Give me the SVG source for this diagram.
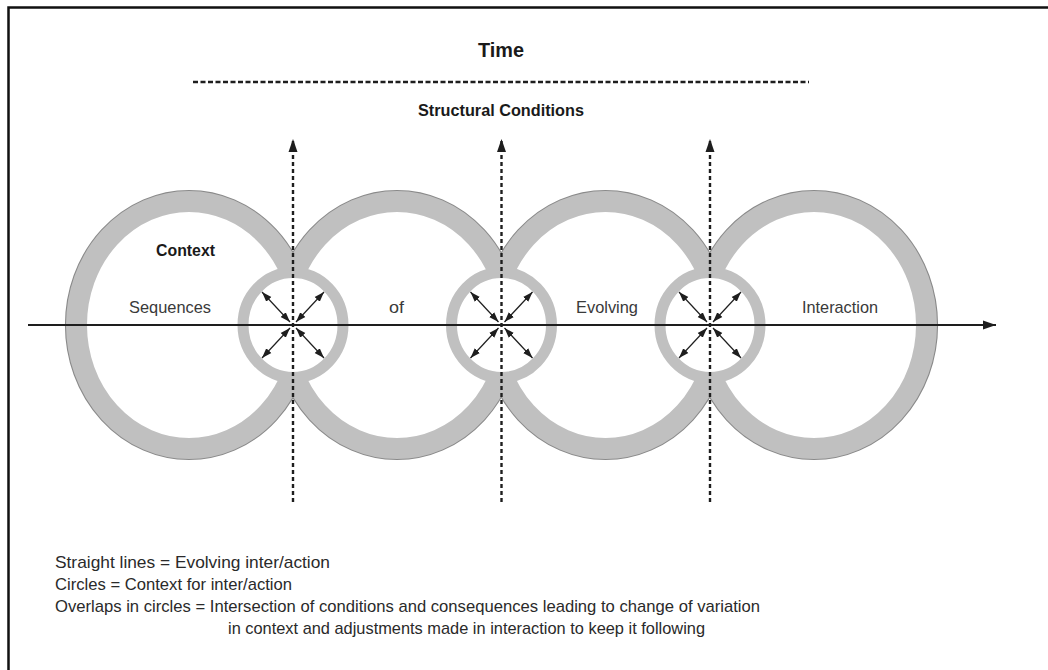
<svg xmlns="http://www.w3.org/2000/svg" width="1048" height="670" viewBox="0 0 1048 670">
  <defs>
    <marker id="headBig" markerUnits="userSpaceOnUse" markerWidth="14" markerHeight="10" refX="13" refY="5" orient="auto">
      <path d="M0,0.5 L13,5 L0,9.5 Z" fill="#1e1e1e"/>
    </marker>
    <marker id="headSmall" markerUnits="userSpaceOnUse" markerWidth="10" markerHeight="8" refX="10" refY="4" orient="auto-start-reverse">
      <path d="M0,0.5 L10,4 L0,7.5 Z" fill="#1e1e1e"/>
    </marker>
    <style>
      .frame { fill: none; stroke: #111; stroke-width: 2.5; }
      .rim { fill: none; stroke: #8a8a8a; stroke-width: 2.2; }
      .band { fill: none; stroke: #c0c0c0; stroke-width: 21; }
      .hub { fill: #fff; stroke: #c0c0c0; stroke-width: 11; }
      .axis { stroke: #1e1e1e; stroke-width: 2; fill: none; }
      .cut { stroke: #1e1e1e; stroke-width: 2.4; stroke-dasharray: 4 3; fill: none; }
      .timeline { stroke: #1e1e1e; stroke-width: 2.4; stroke-dasharray: 5 2.5; fill: none; }
      .ray { stroke: #1e1e1e; stroke-width: 1.2; fill: none; }
      .head { font-family: "Liberation Sans", Arial, sans-serif; font-weight: bold; fill: #1a1a1a; }
      .lbl { font-family: "Liberation Sans", Arial, sans-serif; fill: #3a3a3a; font-size: 17px; }
      .key { font-family: "Liberation Sans", Arial, sans-serif; fill: #2a2a2a; font-size: 17px; }
    </style>
  </defs>

  <rect id="frame" class="frame" x="8.5" y="7.5" width="1060" height="690"/>

  <!-- context rings: darker rims first, gray bands over them -->
  <g id="context-rings">
    <g id="rims">
      <ellipse class="rim" cx="189" cy="325" rx="123" ry="134"/>
      <ellipse class="rim" cx="397" cy="325" rx="123" ry="134"/>
      <ellipse class="rim" cx="605.5" cy="325" rx="123" ry="134"/>
      <ellipse class="rim" cx="814" cy="325" rx="123" ry="134"/>
    </g>
    <g id="context-1"><ellipse class="band" cx="189" cy="325" rx="112.5" ry="123.5"/></g>
    <g id="context-2"><ellipse class="band" cx="397" cy="325" rx="112.5" ry="123.5"/></g>
    <g id="context-3"><ellipse class="band" cx="605.5" cy="325" rx="112.5" ry="123.5"/></g>
    <g id="context-4"><ellipse class="band" cx="814" cy="325" rx="112.5" ry="123.5"/></g>
  </g>

  <!-- overlap circles -->
  <g id="overlap-1"><ellipse class="hub" cx="293" cy="325" rx="50" ry="52.5"/></g>
  <g id="overlap-2"><ellipse class="hub" cx="501.5" cy="325" rx="50" ry="52.5"/></g>
  <g id="overlap-3"><ellipse class="hub" cx="710" cy="325" rx="50" ry="52.5"/></g>

  <g id="connectors">
    <!-- time line -->
    <line class="timeline" x1="193" y1="82" x2="809" y2="82"/>
    <!-- interaction axis -->
    <line class="axis" x1="28" y1="325" x2="996" y2="325" marker-end="url(#headBig)"/>
    <!-- structural condition cuts -->
    <line class="cut" x1="293" y1="502" x2="293" y2="139" marker-end="url(#headBig)"/>
    <line class="cut" x1="501.5" y1="502" x2="501.5" y2="139" marker-end="url(#headBig)"/>
    <line class="cut" x1="710" y1="502" x2="710" y2="139" marker-end="url(#headBig)"/>
    <!-- exchange rays in each overlap -->
    <g id="rays-1">
      <line class="ray" x1="296" y1="322" x2="324" y2="292" marker-start="url(#headSmall)" marker-end="url(#headSmall)"/>
      <line class="ray" x1="290" y1="322" x2="262" y2="292" marker-start="url(#headSmall)" marker-end="url(#headSmall)"/>
      <line class="ray" x1="296" y1="328" x2="324" y2="358" marker-start="url(#headSmall)" marker-end="url(#headSmall)"/>
      <line class="ray" x1="290" y1="328" x2="262" y2="358" marker-start="url(#headSmall)" marker-end="url(#headSmall)"/>
    </g>
    <g id="rays-2">
      <line class="ray" x1="504.5" y1="322" x2="532.5" y2="292" marker-start="url(#headSmall)" marker-end="url(#headSmall)"/>
      <line class="ray" x1="498.5" y1="322" x2="470.5" y2="292" marker-start="url(#headSmall)" marker-end="url(#headSmall)"/>
      <line class="ray" x1="504.5" y1="328" x2="532.5" y2="358" marker-start="url(#headSmall)" marker-end="url(#headSmall)"/>
      <line class="ray" x1="498.5" y1="328" x2="470.5" y2="358" marker-start="url(#headSmall)" marker-end="url(#headSmall)"/>
    </g>
    <g id="rays-3">
      <line class="ray" x1="713" y1="322" x2="741" y2="292" marker-start="url(#headSmall)" marker-end="url(#headSmall)"/>
      <line class="ray" x1="707" y1="322" x2="679" y2="292" marker-start="url(#headSmall)" marker-end="url(#headSmall)"/>
      <line class="ray" x1="713" y1="328" x2="741" y2="358" marker-start="url(#headSmall)" marker-end="url(#headSmall)"/>
      <line class="ray" x1="707" y1="328" x2="679" y2="358" marker-start="url(#headSmall)" marker-end="url(#headSmall)"/>
    </g>
  </g>

  <g id="titles">
    <text class="head" x="478" y="57" font-size="21" textLength="46" lengthAdjust="spacingAndGlyphs">Time</text>
    <text class="head" x="418" y="116" font-size="16" textLength="166" lengthAdjust="spacingAndGlyphs">Structural Conditions</text>
    <text class="head" x="156" y="256" font-size="17" textLength="59" lengthAdjust="spacingAndGlyphs">Context</text>
  </g>

  <g id="labels">
    <text class="lbl" x="129" y="313" textLength="82" lengthAdjust="spacingAndGlyphs">Sequences</text>
    <text class="lbl" x="389" y="313" textLength="15" lengthAdjust="spacingAndGlyphs">of</text>
    <text class="lbl" x="576" y="313" textLength="62" lengthAdjust="spacingAndGlyphs">Evolving</text>
    <text class="lbl" x="802" y="313" textLength="76" lengthAdjust="spacingAndGlyphs">Interaction</text>
  </g>

  <g id="legend">
    <text class="key" x="55" y="568" textLength="275" lengthAdjust="spacingAndGlyphs">Straight lines = Evolving inter/action</text>
    <text class="key" x="55" y="590" textLength="237" lengthAdjust="spacingAndGlyphs">Circles = Context for inter/action</text>
    <text class="key" x="55" y="612" textLength="705" lengthAdjust="spacingAndGlyphs">Overlaps in circles = Intersection of conditions and consequences leading to change of variation</text>
    <text class="key" x="228" y="634" textLength="477" lengthAdjust="spacingAndGlyphs">in context and adjustments made in interaction to keep it following</text>
  </g>
</svg>
